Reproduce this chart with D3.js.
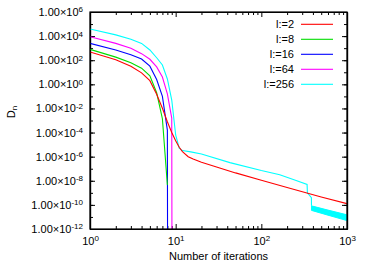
<!DOCTYPE html>
<html>
<head>
<meta charset="utf-8">
<script src="https://d3js.org/d3.v7.min.js"></script>
<style>
body { margin: 0; background: #fff; }
text { font-family: "Liberation Sans", Arial, sans-serif; fill: #000; }
.axis path { stroke: #000; stroke-width: 1.2; }
.axis line { stroke: #000; }
</style>
</head>
<body>
<svg id="chart" width="382" height="266"></svg>
<script>
// iterations and D_n values
var iterRed = [1, 2, 3, 4, 5, 6, 7, 8, 9, 10, 11, 12, 14, 16, 20, 30, 50, 100, 200, 500, 1000];
var valRed = [4.8e2, 1.1e2, 32, 8.9, 2.0, 0.15, 1.05e-2, 7.9e-4, 1e-4, 2.1e-5, 6.0e-6, 2.6e-6, 1.0e-6, 6.3e-7, 3.5e-7, 1.4e-7, 4.5e-8, 1.1e-8, 2.8e-9, 4.5e-10, 1.26e-10];

var iterGreen = [1, 2, 3, 4, 5, 6, 7, 8];
var valGreen = [7.9e2, 1.8e2, 63, 22, 5.0, 0.2, 1.4e-3, 4.5e-9];

var iterBlue = [1, 2, 3, 4, 5, 6, 7, 8, 9];
var valBlue = [2.5e3, 7.1e2, 2.8e2, 1.26e2, 32, 2.5, 0.1, 1.6e-4, 1e-200];

var iterMagenta = [1, 2, 3, 4, 5, 6, 7, 8, 9, 10];
var valMagenta = [8.9e3, 2.5e3, 1e3, 3.5e2, 1.2e2, 28, 4.0, 0.16, 1.6e-3, 1e-200];

var iterCyan = [1, 2, 3, 4, 5, 6, 7, 8, 9, 10, 11, 12, 15, 20, 43, 100, 164, 250, 342, 345, 384, 385];
var valCyan = [3.9e4, 1.26e4, 5.6e3, 2.5e3, 7.1e2, 1.6e2, 40, 2.8, 5e-2, 6.3e-5, 5e-6, 3.2e-6, 2.5e-6, 1.66e-6, 3.2e-7, 7.1e-8, 3.2e-8, 1.1e-8, 5e-9, 1e-9, 4e-10, 8.3e-11];

// noisy tail of l:=256 after the drop, given as low / high envelope
var iterCyanBand = [385, 600, 1000];
var loCyanBand = [3.5e-11, 1.4e-11, 5e-12];
var hiCyanBand = [8.3e-11, 3.7e-11, 1.5e-11];

var legendLabels = ["l:=2", "l:=8", "l:=16", "l:=64", "l:=256"];
var xTickExp = [0, 1, 2, 3];
var yTickExp = [6, 4, 2, 0, -2, -4, -6, -8, -10, -12];

var margin = {left: 90, top: 12, right: 35, bottom: 37};
var W = 382, H = 266;
var width = W - margin.left - margin.right;
var height = H - margin.top - margin.bottom;

var svg = d3.select("#chart");
var g = svg.append("g").attr("transform", "translate(" + margin.left + "," + margin.top + ")");

var x = d3.scaleLog().domain([1, 1000]).range([0, width]);
var y = d3.scaleLog().domain([1e-12, 1e6]).range([height, 0]);

g.append("clipPath").attr("id", "clip")
	.append("rect").attr("width", width).attr("height", height);

var series = [
	{name: legendLabels[0], color: "#ff0000", n: iterRed, v: valRed},
	{name: legendLabels[1], color: "#00dd00", n: iterGreen, v: valGreen},
	{name: legendLabels[2], color: "#0000ff", n: iterBlue, v: valBlue},
	{name: legendLabels[3], color: "#ff00ff", n: iterMagenta, v: valMagenta},
	{name: legendLabels[4], color: "#00ffff", n: iterCyan, v: valCyan}
];

// ticks
var minorX = [];
xTickExp.slice(0, -1).forEach(function(e){
	for (var k = 2; k < 10; k++) minorX.push(k * Math.pow(10, e));
});
var majorX = xTickExp.map(function(e){ return Math.pow(10, e); });
var allY = d3.range(-12, 7).map(function(e){ return Math.pow(10, e); });
var majorY = yTickExp.map(function(e){ return Math.pow(10, e); });

function supLabel(sel, base, expOf){
	sel.text(null);
	sel.append("tspan").text(base);
	sel.append("tspan").attr("dy", "-0.45em").attr("font-size", "8px").text(expOf);
}

var xAxis = g.append("g").attr("class", "axis")
	.attr("transform", "translate(0," + height + ")")
	.call(d3.axisBottom(x).tickValues(majorX).tickSize(-5).tickPadding(8).tickSizeOuter(0));
xAxis.selectAll(".tick text").attr("font-size", "11px").attr("font-family", null)
	.each(function(d, i){ supLabel(d3.select(this), "10", xTickExp[i]); });

g.append("g").attr("class", "axis")
	.attr("transform", "translate(0," + height + ")")
	.call(d3.axisBottom(x).tickValues(minorX).tickSize(-3).tickFormat("").tickSizeOuter(0));

g.append("g").attr("class", "axis")
	.call(d3.axisTop(x).tickValues(majorX).tickSize(-5).tickFormat("").tickSizeOuter(0));
g.append("g").attr("class", "axis")
	.call(d3.axisTop(x).tickValues(minorX).tickSize(-3).tickFormat("").tickSizeOuter(0));

var yAxis = g.append("g").attr("class", "axis")
	.call(d3.axisLeft(y).tickValues(majorY).tickSize(-5).tickPadding(7).tickSizeOuter(0));
yAxis.selectAll(".tick text").attr("font-size", "11px").attr("font-family", null)
	.each(function(d, i){ supLabel(d3.select(this), "1.00\u00d710", yTickExp[i]); });

g.append("g").attr("class", "axis")
	.call(d3.axisLeft(y).tickValues(allY).tickSize(-3).tickFormat("").tickSizeOuter(0));

g.append("g").attr("class", "axis")
	.attr("transform", "translate(" + width + ",0)")
	.call(d3.axisRight(y).tickValues(majorY).tickSize(-5).tickFormat("").tickSizeOuter(0));
g.append("g").attr("class", "axis")
	.attr("transform", "translate(" + width + ",0)")
	.call(d3.axisRight(y).tickValues(allY).tickSize(-3).tickFormat("").tickSizeOuter(0));

// lines
var line = d3.line()
	.x(function(d){ return x(d[0]); })
	.y(function(d){ return y(d[1]); });

var plot = g.append("g").attr("clip-path", "url(#clip)");

var band = d3.area()
	.x(function(d){ return x(d[0]); })
	.y0(function(d){ return y(d[1]); })
	.y1(function(d){ return y(d[2]); });

plot.append("path")
	.datum(iterCyanBand.map(function(n, i){ return [n, loCyanBand[i], hiCyanBand[i]]; }))
	.attr("d", band)
	.attr("fill", "#00ffff")
	.attr("stroke", "#00ffff")
	.attr("stroke-width", 1);

plot.selectAll(".series")
	.data(series.slice().reverse())
	.enter().append("path")
	.attr("class", "series")
	.attr("fill", "none")
	.attr("stroke-width", 1.1)
	.attr("stroke", function(d){ return d.color; })
	.attr("d", function(d){ return line(d.n.map(function(n, i){ return [n, d.v[i]]; })); });

// frame
g.append("rect").attr("width", width).attr("height", height)
	.attr("fill", "none").attr("stroke", "#000").attr("stroke-width", 1.2);

// legend
var legend = g.selectAll(".legend")
	.data(series)
	.enter().append("g")
	.attr("class", "legend")
	.attr("transform", function(d, i){ return "translate(0," + (12.3 + i * 15) + ")"; });

legend.append("text")
	.attr("x", 204)
	.attr("y", 4)
	.attr("text-anchor", "end")
	.attr("font-size", "11px")
	.text(function(d){ return d.name; });

legend.append("line")
	.attr("x1", 211).attr("x2", 243)
	.attr("stroke", function(d){ return d.color; })
	.attr("stroke-width", 1.1);

// axis titles
svg.append("text")
	.attr("x", margin.left + width / 2)
	.attr("y", 260)
	.attr("text-anchor", "middle")
	.attr("font-size", "11px")
	.text("Number of iterations");

var yt = svg.append("text")
	.attr("transform", "translate(15,112) rotate(-90)")
	.attr("text-anchor", "middle")
	.attr("font-size", "11px");
yt.append("tspan").text("D");
yt.append("tspan").attr("dy", "0.3em").attr("font-size", "8px").text("n");
</script>
</body>
</html>
